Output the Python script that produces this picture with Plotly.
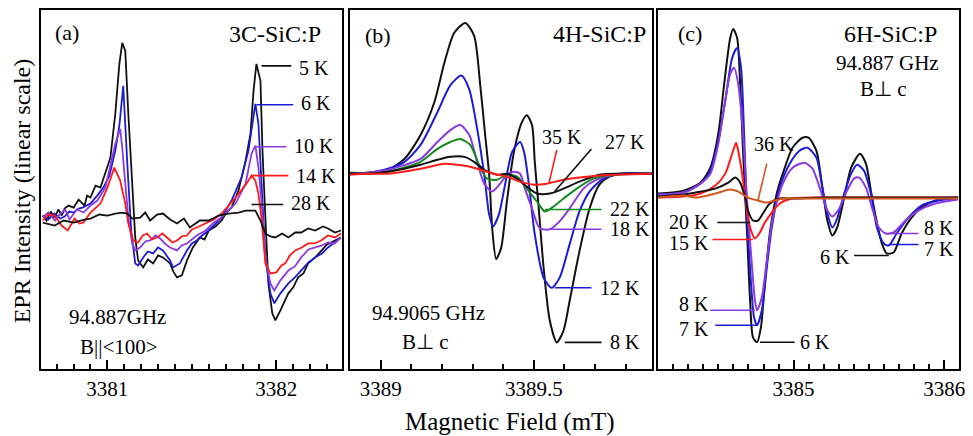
import plotly.graph_objects as go
from plotly.subplots import make_subplots

# (a) 3C-SiC:P, field in mT, intensity in arb. units
a_field_5k = [3380.618, 3380.640, 3380.665, 3380.688, 3380.710, 3380.730, 3380.747, 3380.770, 3380.800, 3380.830,
              3380.865, 3380.880, 3380.900, 3380.930, 3380.959, 3380.988, 3381.018, 3381.047, 3381.071, 3381.088,
              3381.106, 3381.124, 3381.147, 3381.165, 3381.182, 3381.212, 3381.240, 3381.271, 3381.300, 3381.329,
              3381.371, 3381.390, 3381.412, 3381.441, 3381.471, 3381.506, 3381.547, 3381.575, 3381.600, 3381.640,
              3381.676, 3381.705, 3381.735, 3381.776, 3381.818, 3381.847, 3381.865, 3381.882, 3381.906, 3381.918,
              3381.935, 3381.953, 3381.976, 3381.994, 3382.024, 3382.071, 3382.100, 3382.129, 3382.160, 3382.188,
              3382.230, 3382.265, 3382.300, 3382.347, 3382.382]
a_int_5k = [0.2, -0.3, 0.6, 0.0, 0.8, 0.2, 0.9, 1.2, 1.0, 1.8,
            1.2, 2.2, 2.0, 3.2, 3.0, 4.4, 6.0, 10.4, 15.4, 17.5,
            16.7, 10.4, 3.7, -2.0, -4.3, -5.0, -4.2, -4.6, -3.8, -4.0,
            -4.6, -5.4, -6.0, -5.8, -4.3, -3.0, -2.0, -2.2, -1.3, -0.9,
            -0.3, 0.5, 1.0, 2.7, 5.7, 8.4, 12.7, 15.4, 13.7, 6.7,
            0.0, -6.6, -9.6, -10.3, -9.3, -7.6, -7.0, -6.0, -5.6, -4.6,
            -4.0, -3.3, -2.7, -2.3, -2.0]

a_field_6k = [3380.618, 3380.650, 3380.688, 3380.720, 3380.747, 3380.775, 3380.800, 3380.830, 3380.853, 3380.900,
              3380.940, 3380.976, 3381.012, 3381.047, 3381.071, 3381.094, 3381.118, 3381.141, 3381.165, 3381.182,
              3381.212, 3381.240, 3381.271, 3381.300, 3381.329, 3381.371, 3381.388, 3381.429, 3381.471, 3381.500,
              3381.529, 3381.560, 3381.600, 3381.640, 3381.676, 3381.735, 3381.794, 3381.835, 3381.865, 3381.876,
              3381.894, 3381.912, 3381.935, 3381.965, 3381.988, 3382.024, 3382.071, 3382.110, 3382.147, 3382.190,
              3382.229, 3382.270, 3382.306, 3382.345, 3382.382]
a_int_6k = [0.2, -0.2, 0.4, -0.1, 0.1, 0.6, 0.5, 0.9, 1.0, 1.4,
            2.2, 3.0, 4.2, 6.7, 9.2, 13.2, 5.4, -1.3, -4.6, -4.8,
            -4.0, -3.4, -3.6, -3.0, -3.3, -4.3, -5.0, -4.6, -3.3, -2.6,
            -2.3, -1.8, -1.3, -0.6, 0.0, 1.7, 4.0, 6.7, 10.4, 11.4,
            9.4, 3.4, -4.0, -7.6, -8.6, -7.6, -6.6, -6.0, -5.3, -4.5,
            -4.0, -3.6, -3.0, -2.5, -2.0]

a_field_10k = [3380.618, 3380.650, 3380.690, 3380.718, 3380.750, 3380.776, 3380.820, 3380.859, 3380.900, 3380.941,
               3380.988, 3381.018, 3381.047, 3381.076, 3381.088, 3381.106, 3381.124, 3381.147, 3381.165, 3381.194,
               3381.225, 3381.253, 3381.285, 3381.312, 3381.340, 3381.371, 3381.412, 3381.440, 3381.471, 3381.529,
               3381.582, 3381.630, 3381.676, 3381.720, 3381.759, 3381.818, 3381.853, 3381.876, 3381.894, 3381.912,
               3381.935, 3381.965, 3381.988, 3382.024, 3382.071, 3382.110, 3382.147, 3382.190, 3382.229, 3382.270,
               3382.306, 3382.345, 3382.382]
a_int_10k = [0.0, 0.5, -0.3, 0.3, 0.8, -0.2, 0.8, 0.5, 1.2, 1.7,
             3.0, 5.4, 7.4, 8.9, 7.0, 3.4, 0.0, -2.6, -3.3, -3.0,
             -2.4, -2.3, -1.8, -2.1, -2.6, -3.0, -3.3, -2.8, -2.6, -1.8,
             -1.3, -0.5, 0.0, 0.8, 1.4, 3.4, 6.4, 7.2, 5.0, 1.7,
             -4.0, -6.6, -7.3, -6.3, -5.3, -4.9, -4.0, -3.2, -3.0, -2.8,
             -2.5, -2.6, -2.0]

a_field_14k = [3380.618, 3380.650, 3380.688, 3380.729, 3380.765, 3380.806, 3380.835, 3380.859, 3380.900, 3380.959,
               3381.000, 3381.041, 3381.076, 3381.106, 3381.124, 3381.153, 3381.182, 3381.210, 3381.235, 3381.265,
               3381.294, 3381.325, 3381.353, 3381.385, 3381.412, 3381.440, 3381.471, 3381.500, 3381.529, 3381.582,
               3381.630, 3381.676, 3381.720, 3381.759, 3381.824, 3381.853, 3381.876, 3381.894, 3381.912, 3381.935,
               3381.965, 3382.000, 3382.030, 3382.053, 3382.080, 3382.112, 3382.150, 3382.188, 3382.225, 3382.265,
               3382.305, 3382.347, 3382.382]
a_int_14k = [-0.3, 0.3, 0.2, -0.8, -1.3, -0.1, -0.6, -0.5, 0.5, 1.4,
             3.0, 5.0, 3.7, 1.4, -0.6, -2.3, -2.5, -1.8, -1.6, -2.2,
             -2.0, -1.6, -2.0, -2.5, -2.3, -1.9, -1.8, -1.2, -1.0, -0.6,
             -0.2, 0.4, 1.2, 2.0, 3.4, 4.2, 3.7, 2.4, 0.0, -4.6,
             -5.6, -5.5, -4.8, -4.6, -3.8, -3.3, -3.0, -2.6, -2.6, -2.3,
             -1.8, -2.0, -1.6]

a_field_28k = [3380.618, 3380.688, 3380.741, 3380.800, 3380.865, 3380.900, 3380.953, 3381.000, 3381.047, 3381.088,
               3381.118, 3381.147, 3381.194, 3381.224, 3381.253, 3381.294, 3381.329, 3381.371, 3381.412, 3381.453,
               3381.488, 3381.547, 3381.600, 3381.659, 3381.718, 3381.776, 3381.818, 3381.876, 3381.906, 3381.935,
               3381.965, 3381.994, 3382.035, 3382.071, 3382.112, 3382.147, 3382.188, 3382.229, 3382.276, 3382.306,
               3382.347, 3382.382]
a_int_28k = [-0.5, -0.8, -0.3, -0.5, -0.2, -0.1, 0.3, 0.2, 0.4, 0.5,
             0.4, -0.1, 0.0, 0.5, -0.3, 0.3, 0.4, -0.2, -0.6, -0.1,
             -1.0, -0.3, -0.3, 0.2, 0.4, 0.5, 0.7, 0.7, -0.3, -1.6,
             -1.9, -2.0, -1.6, -2.0, -1.5, -1.5, -1.1, -1.3, -0.9, -1.1,
             -1.5, -1.3]

# (b) 4H-SiC:P
b_field_8k = [3388.899, 3388.958, 3389.023, 3389.078, 3389.130, 3389.175, 3389.208, 3389.240, 3389.276, 3389.305,
              3389.325, 3389.341, 3389.354, 3389.364, 3389.377, 3389.393, 3389.412, 3389.435, 3389.461, 3389.477,
              3389.494, 3389.503, 3389.516, 3389.532, 3389.552, 3389.575, 3389.597, 3389.617, 3389.649, 3389.682,
              3389.714, 3389.747, 3389.792, 3389.886]
b_int_8k = [0.1, 0.1, 0.4, 1.5, 3.9, 7.2, 11.2, 14.2, 15.2, 13.9,
            8.9, 3.9, -0.1, -5.5, -8.6, -7.5, -2.8, 2.2, 5.2, 5.9,
            4.9, 1.2, -3.5, -9.5, -14.8, -17.0, -15.8, -12.8, -7.8, -3.5,
            -1.1, -0.3, 0.0, 0.0]

b_field_12k = [3388.899, 3388.958, 3389.023, 3389.078, 3389.130, 3389.185, 3389.227, 3389.263, 3389.289, 3389.315,
               3389.338, 3389.354, 3389.367, 3389.386, 3389.406, 3389.429, 3389.455, 3389.468, 3389.484, 3389.503,
               3389.532, 3389.558, 3389.584, 3389.617, 3389.649, 3389.682, 3389.727, 3389.779, 3389.886]
b_int_12k = [0.0, 0.1, 0.5, 1.2, 2.9, 6.2, 8.9, 9.9, 8.5, 4.5,
             -0.1, -4.1, -5.3, -4.1, -1.1, 2.2, 3.2, 2.2, -1.1, -6.1,
             -10.5, -11.5, -10.5, -7.1, -3.8, -1.8, -0.5, 0.0, 0.0]

b_field_18k = [3388.899, 3388.958, 3389.023, 3389.130, 3389.185, 3389.227, 3389.260, 3389.289, 3389.315, 3389.338,
               3389.364, 3389.390, 3389.412, 3389.435, 3389.455, 3389.471, 3389.494, 3389.519, 3389.552, 3389.584,
               3389.617, 3389.662, 3389.705, 3389.760, 3389.886]
b_int_18k = [0.0, 0.1, 0.4, 1.5, 3.2, 4.4, 4.9, 3.9, 1.2, -1.0,
             -1.8, -1.0, -0.1, 0.2, 0.0, -1.5, -3.5, -5.5, -5.6, -4.8,
             -3.5, -1.5, -0.6, -0.1, 0.0]

b_field_22k = [3388.899, 3388.958, 3389.023, 3389.130, 3389.185, 3389.227, 3389.260, 3389.292, 3389.321, 3389.347,
               3389.380, 3389.412, 3389.445, 3389.477, 3389.510, 3389.536, 3389.565, 3389.597, 3389.640, 3389.695,
               3389.760, 3389.886]
b_int_22k = [0.0, 0.0, 0.2, 1.2, 2.5, 3.2, 3.5, 2.9, 0.9, -0.5,
             -0.6, -0.1, -0.3, -1.5, -2.8, -3.8, -3.3, -2.5, -1.5, -0.5,
             -0.1, 0.0]

b_field_27k = [3388.899, 3388.958, 3389.023, 3389.130, 3389.185, 3389.227, 3389.273, 3389.305, 3389.338, 3389.380,
               3389.412, 3389.445, 3389.477, 3389.510, 3389.552, 3389.597, 3389.649, 3389.714, 3389.886]
b_int_27k = [0.0, 0.0, 0.2, 0.9, 1.4, 1.7, 1.7, 1.2, 0.4, -0.1,
             0.0, -0.5, -1.3, -2.0, -2.0, -1.5, -0.8, -0.1, 0.0]

b_field_35k = [3388.899, 3388.958, 3389.023, 3389.130, 3389.208, 3389.250, 3389.292, 3389.325, 3389.370, 3389.412,
               3389.455, 3389.500, 3389.542, 3389.597, 3389.672, 3389.760, 3389.886]
b_int_35k = [-0.1, 0.0, 0.0, 0.5, 1.0, 0.9, 0.7, 0.4, 0.0, -0.3,
             -0.8, -1.1, -1.0, -0.6, -0.3, -0.1, 0.0]

# (c) 6H-SiC:P
c_field_6k = [3384.099, 3384.270, 3384.382, 3384.447, 3384.500, 3384.539, 3384.579, 3384.599, 3384.625, 3384.645,
              3384.664, 3384.691, 3384.711, 3384.730, 3384.757, 3384.783, 3384.809, 3384.842, 3384.888, 3384.928,
              3384.993, 3385.059, 3385.099, 3385.151, 3385.191, 3385.224, 3385.257, 3385.289, 3385.336, 3385.382,
              3385.441, 3385.480, 3385.513, 3385.546, 3385.586, 3385.618, 3385.664, 3385.717, 3385.783, 3385.849,
              3385.941, 3386.092]
c_int_6k = [0.3, 0.6, 1.4, 2.9, 6.3, 11.3, 15.9, 16.8, 15.9, 11.3,
            4.6, -3.7, -10.4, -14.1, -14.6, -13.1, -8.7, -3.7, 0.3, 2.3,
            4.9, 5.9, 5.9, 4.6, 0.9, -2.4, -3.9, -3.1, -0.1, 2.9,
            4.3, 3.3, 0.6, -2.1, -4.7, -5.7, -5.6, -3.7, -2.1, -1.1,
            -0.4, -0.1]

c_field_7k = [3384.099, 3384.270, 3384.382, 3384.447, 3384.500, 3384.546, 3384.592, 3384.625, 3384.651, 3384.671,
              3384.691, 3384.717, 3384.737, 3384.757, 3384.789, 3384.822, 3384.855, 3384.908, 3384.974, 3385.039,
              3385.092, 3385.151, 3385.191, 3385.224, 3385.257, 3385.289, 3385.336, 3385.382, 3385.421, 3385.467,
              3385.513, 3385.553, 3385.599, 3385.632, 3385.684, 3385.763, 3385.849, 3385.961, 3386.092]
c_int_7k = [0.2, 0.4, 1.3, 2.6, 5.6, 9.6, 13.9, 14.9, 12.9, 6.3,
            -2.1, -8.7, -12.1, -12.9, -11.4, -7.1, -3.1, 0.9, 3.3, 4.6,
            4.9, 3.9, 0.9, -1.7, -3.1, -2.2, 0.3, 2.3, 3.2, 2.6,
            0.3, -3.1, -4.7, -4.9, -3.7, -2.1, -0.9, -0.4, -0.2]

c_field_8k = [3384.099, 3384.270, 3384.382, 3384.447, 3384.500, 3384.546, 3384.579, 3384.605, 3384.632, 3384.664,
              3384.691, 3384.724, 3384.743, 3384.757, 3384.789, 3384.822, 3384.862, 3384.928, 3384.993, 3385.072,
              3385.125, 3385.184, 3385.224, 3385.257, 3385.303, 3385.355, 3385.401, 3385.434, 3385.480, 3385.520,
              3385.566, 3385.612, 3385.664, 3385.743, 3385.829, 3385.941, 3386.092]
c_int_8k = [0.2, 0.4, 1.3, 2.3, 5.3, 9.6, 12.3, 12.9, 11.3, 6.3,
            -0.4, -7.1, -10.4, -11.4, -10.1, -6.4, -2.1, 1.3, 2.9, 3.4,
            2.8, 0.4, -1.4, -2.0, -1.2, 0.6, 1.8, 1.9, 0.9, -1.1,
            -3.1, -3.7, -3.6, -2.4, -1.4, -0.7, -0.3]

c_field_15k = [3384.099, 3384.270, 3384.382, 3384.480, 3384.546, 3384.592, 3384.618, 3384.632, 3384.658, 3384.678,
               3384.697, 3384.724, 3384.743, 3384.776, 3384.809, 3384.855, 3384.908, 3384.987, 3385.204, 3386.092]
c_int_15k = [-0.1, 0.0, 0.3, 1.1, 2.3, 4.3, 5.4, 4.6, 2.3, -0.1,
             -2.1, -3.7, -4.2, -3.6, -2.6, -1.6, -0.7, -0.2, -0.1, -0.1]

c_field_20k = [3384.099, 3384.270, 3384.349, 3384.480, 3384.566, 3384.612, 3384.645, 3384.678, 3384.697, 3384.730,
               3384.763, 3384.796, 3384.842, 3384.908, 3384.987, 3385.204, 3386.092]
c_int_20k = [0.0, 0.2, 0.4, 0.8, 1.4, 1.9, 1.4, -0.1, -1.4, -2.4,
             -2.4, -1.7, -0.7, -0.2, -0.2, -0.1, -0.1]

c_field_36k = [3384.099, 3384.270, 3384.349, 3384.480, 3384.579, 3384.632, 3384.697, 3384.763, 3384.822, 3384.875,
               3384.941, 3385.007, 3386.092]
c_int_36k = [-0.1, 0.1, -0.1, 0.3, 0.7, 0.5, -0.1, -0.4, -0.6, -0.4,
             -0.2, -0.2, -0.2]

BLACK = "#111111"
BLUE = "#1c1cd6"
PURPLE = "#8a3ae0"
RED = "#ff1a1a"
GREEN = "#138a1f"
ORANGE = "#d0561c"
FONT = "Liberation Serif"


def add_curve(fig, col, x, y, color, smooth):
  if smooth:
    line = dict(color=color, width=2, shape="spline", smoothing=0.7)
  else:
    line = dict(color=color, width=1.8)
  fig.add_trace(go.Scatter(x=x, y=y, mode="lines", line=line, hoverinfo="skip"), row=1, col=col)


def leader(fig, xr, yr, x0, x1, y0, y1, color):
  fig.add_shape(type="line", xref=xr, yref=yr, x0=x0, x1=x1, y0=y0, y1=y1,
                line=dict(color=color, width=1.6))


def label(fig, xr, yr, x, y, text, anchor="left", size=20):
  fig.add_annotation(xref=xr, yref=yr, x=x, y=y, text=text, showarrow=False,
                     xanchor=anchor, yanchor="middle", font=dict(family=FONT, size=size, color="black"))


def main():
  fig = make_subplots(rows=1, cols=3)

  # panel (a)
  add_curve(fig, 1, a_field_5k, a_int_5k, BLACK, False)
  add_curve(fig, 1, a_field_6k, a_int_6k, BLUE, False)
  add_curve(fig, 1, a_field_10k, a_int_10k, PURPLE, False)
  add_curve(fig, 1, a_field_14k, a_int_14k, RED, False)
  add_curve(fig, 1, a_field_28k, a_int_28k, BLACK, False)

  # panel (b)
  add_curve(fig, 2, b_field_8k, b_int_8k, BLACK, True)
  add_curve(fig, 2, b_field_12k, b_int_12k, BLUE, True)
  add_curve(fig, 2, b_field_18k, b_int_18k, PURPLE, True)
  add_curve(fig, 2, b_field_22k, b_int_22k, GREEN, True)
  add_curve(fig, 2, b_field_27k, b_int_27k, BLACK, True)
  add_curve(fig, 2, b_field_35k, b_int_35k, RED, True)

  # panel (c)
  add_curve(fig, 3, c_field_6k, c_int_6k, BLACK, True)
  add_curve(fig, 3, c_field_7k, c_int_7k, BLUE, True)
  add_curve(fig, 3, c_field_8k, c_int_8k, PURPLE, True)
  add_curve(fig, 3, c_field_15k, c_int_15k, RED, True)
  add_curve(fig, 3, c_field_20k, c_int_20k, BLACK, True)
  add_curve(fig, 3, c_field_36k, c_int_36k, ORANGE, True)

  # temperature labels with leader lines
  for x0, x1, y, c, t, ty in [(3381.912, 3382.088, 15.2, BLACK, "5 K", 15.0),
                              (3381.882, 3382.100, 11.3, BLUE, "6 K", 11.5),
                              (3381.876, 3382.059, 7.1, PURPLE, "10 K", 7.2),
                              (3381.853, 3382.071, 4.2, RED, "14 K", 4.2),
                              (3381.853, 3382.041, 1.3, BLACK, "28 K", 1.5)]:
    leader(fig, "x", "y", x0, x1, y, y, c)
    label(fig, "x", "y", x1 + 0.035, ty, t)

  leader(fig, "x2", "y2", 3389.575, 3389.549, 2.4, -1.0, RED)
  label(fig, "x2", "y2", 3389.591, 3.7, "35 K", "center")
  leader(fig, "x2", "y2", 3389.688, 3389.568, 2.5, -1.8, BLACK)
  label(fig, "x2", "y2", 3389.727, 3.2, "27 K")
  for x0, x1, y, c, t in [(3389.536, 3389.721, -3.6, GREEN, "22 K"),
                          (3389.552, 3389.721, -5.6, PURPLE, "18 K"),
                          (3389.568, 3389.688, -11.5, BLUE, "12 K"),
                          (3389.601, 3389.721, -17.0, BLACK, "8 K")]:
    leader(fig, "x2", "y2", x0, x1, y, y, c)
    label(fig, "x2", "y2", x1 + 0.02, y, t)

  leader(fig, "x3", "y3", 3384.822, 3384.763, 3.3, -0.4, ORANGE)
  label(fig, "x3", "y3", 3384.868, 5.3, "36 K", "center")
  for x0, x1, y, c, t, ty in [(3384.493, 3384.711, -2.6, BLACK, "20 K", -2.5),
                              (3384.461, 3384.730, -4.3, RED, "15 K", -4.7),
                              (3384.447, 3384.743, -11.4, PURPLE, "8 K", -10.8),
                              (3384.480, 3384.757, -12.9, BLUE, "7 K", -13.3)]:
    leader(fig, "x3", "y3", x0, x1, y, y, c)
    label(fig, "x3", "y3", 3384.452, ty, t, "right")
  leader(fig, "x3", "y3", 3384.776, 3385.007, -14.6, -14.6, BLACK)
  label(fig, "x3", "y3", 3385.03, -14.6, "6 K")
  leader(fig, "x3", "y3", 3385.632, 3385.829, -3.7, -3.7, PURPLE)
  label(fig, "x3", "y3", 3385.855, -3.1, "8 K")
  leader(fig, "x3", "y3", 3385.632, 3385.829, -4.8, -4.8, BLUE)
  label(fig, "x3", "y3", 3385.855, -5.3, "7 K")
  leader(fig, "x3", "y3", 3385.401, 3385.632, -5.9, -5.9, BLACK)
  label(fig, "x3", "y3", 3385.39, -6.1, "6 K", "right")

  # panel headers and conditions
  label(fig, "paper", "paper", 0.0462, 0.945, "(a)", "left", 22)
  label(fig, "paper", "paper", 0.3258, 0.943, "3C-SiC:P", "right", 24)
  label(fig, "paper", "paper", 0.0606, 0.291, "94.887GHz", "left", 21)
  label(fig, "paper", "paper", 0.0719, 0.223, "B||&lt;100&gt;", "left", 21)
  label(fig, "paper", "paper", 0.3669, 0.938, "(b)", "left", 22)
  label(fig, "paper", "paper", 0.6619, 0.943, "4H-SiC:P", "right", 24)
  label(fig, "paper", "paper", 0.3741, 0.301, "94.9065 GHz", "left", 21)
  label(fig, "paper", "paper", 0.4049, 0.234, "B⊥ c", "left", 21)
  label(fig, "paper", "paper", 0.6906, 0.943, "(c)", "left", 22)
  label(fig, "paper", "paper", 0.9126, 0.943, "6H-SiC:P", "center", 24)
  label(fig, "paper", "paper", 0.9096, 0.876, "94.887 GHz", "center", 21)
  label(fig, "paper", "paper", 0.9054, 0.817, "B⊥ c", "center", 21)

  fig.add_annotation(xref="paper", yref="paper", x=0.5190, y=0.050, text="Magnetic Field (mT)", showarrow=False,
                     xanchor="center", yanchor="middle", font=dict(family=FONT, size=25, color="black"))
  fig.add_annotation(xref="paper", yref="paper", x=0.0144, y=0.583, text="EPR Intensity (linear scale)",
                     showarrow=False, textangle=-90, xanchor="center", yanchor="middle",
                     font=dict(family=FONT, size=24, color="black"))

  # page body has an 8 px margin, so everything is laid out shifted up/left by 8 px
  ydom = [0.1720, 0.9977]
  xcommon = dict(showline=True, mirror=True, linecolor="black", linewidth=2, showgrid=False, zeroline=False,
                 ticks="inside", ticklen=9, tickwidth=1.5, tickcolor="black", tickformat=".1~f",
                 tickfont=dict(family=FONT, size=21, color="black"),
                 minor=dict(ticks="inside", ticklen=5, tickwidth=1.5, tickcolor="black", dtick=0.1))
  ycommon = dict(showline=True, mirror=True, linecolor="black", linewidth=2, showgrid=False, zeroline=False,
                 showticklabels=False, ticks="", domain=ydom)

  fig.update_layout(
    width=973, height=436,
    margin=dict(l=0, r=0, t=0, b=0),
    paper_bgcolor="white", plot_bgcolor="white",
    showlegend=False,
    font=dict(family=FONT, size=20, color="black"),
    xaxis=dict(xcommon, domain=[0.0339, 0.3453], range=[3380.606, 3382.388], tick0=3381, dtick=1),
    xaxis2=dict(xcommon, domain=[0.3535, 0.6660], range=[3388.899, 3389.886], tick0=3389, dtick=0.5),
    xaxis3=dict(xcommon, domain=[0.6721, 0.9836], range=[3384.099, 3386.099], tick0=3385, dtick=1),
    yaxis=dict(ycommon, range=[-15.2, 20.8]),
    yaxis2=dict(ycommon, range=[-19.7, 16.5]),
    yaxis3=dict(ycommon, range=[-17.3, 18.7]),
  )

  fig.write_html("out.html")


main()
